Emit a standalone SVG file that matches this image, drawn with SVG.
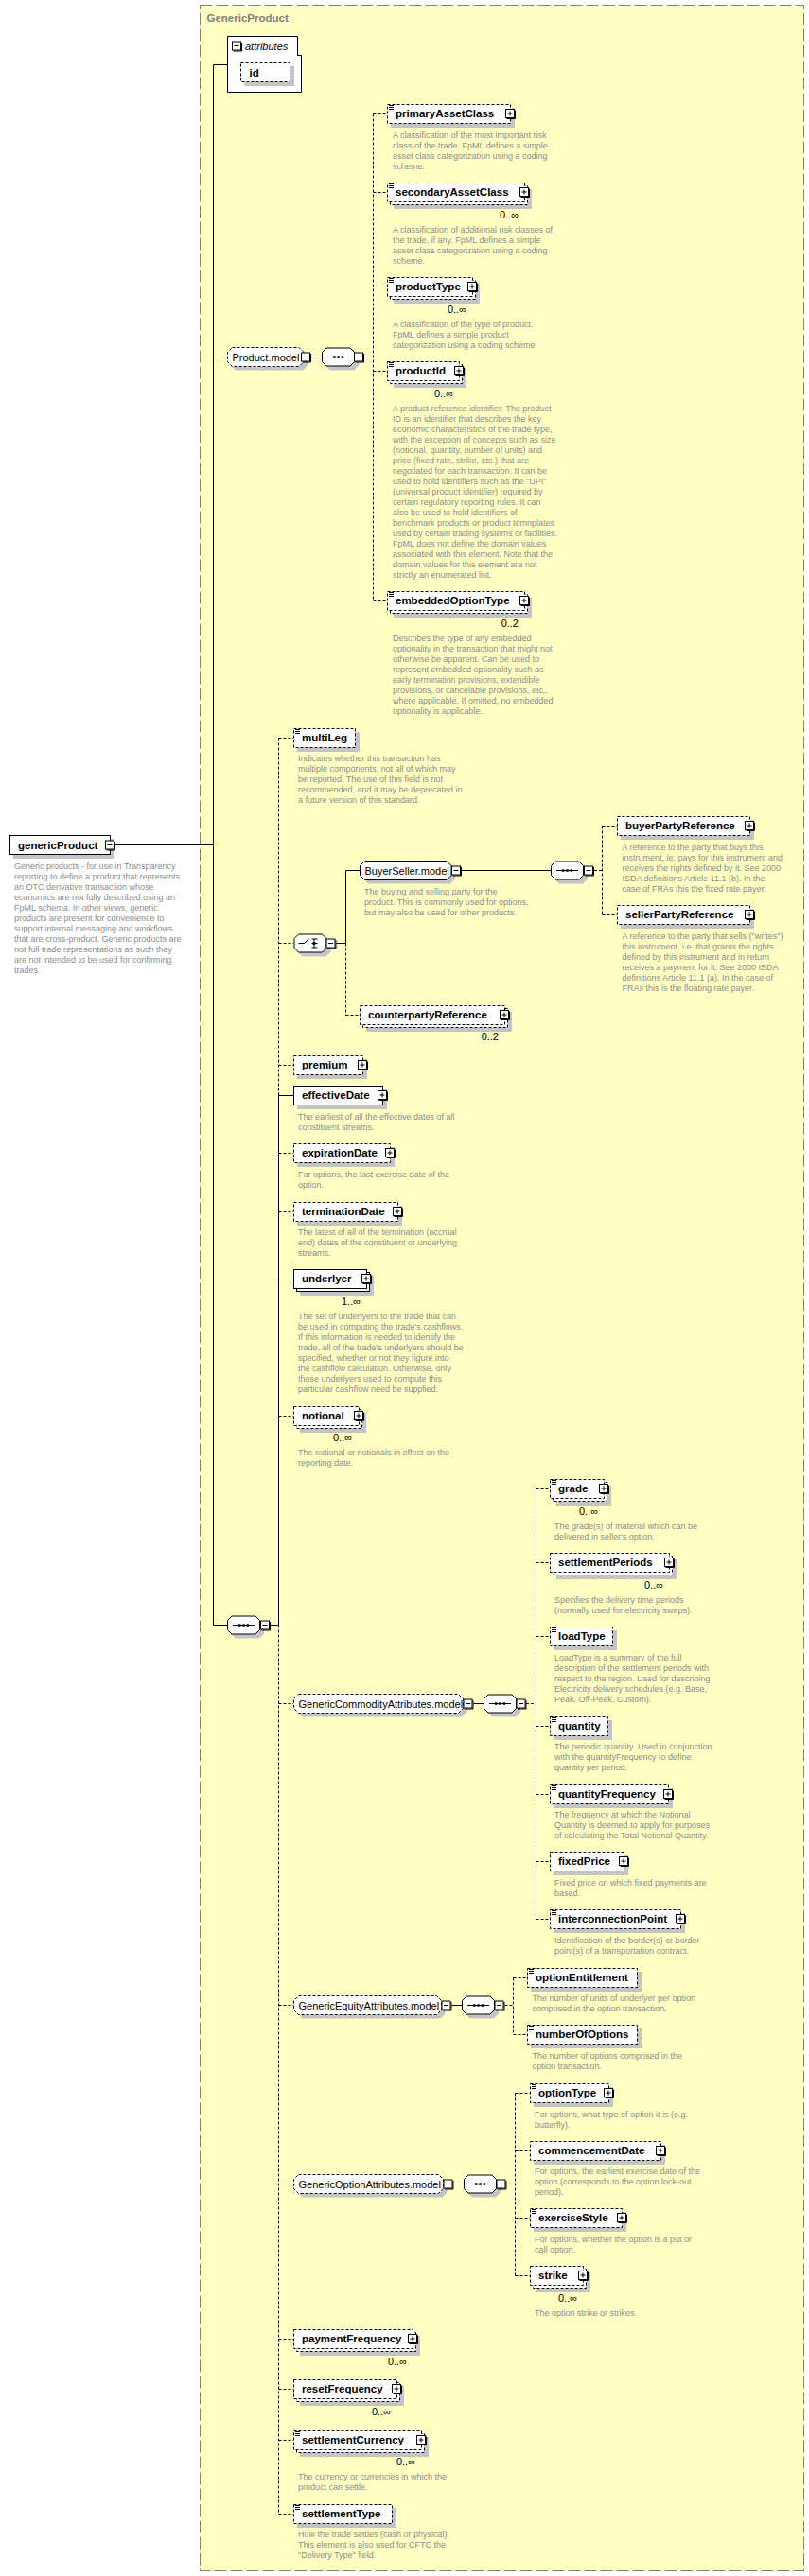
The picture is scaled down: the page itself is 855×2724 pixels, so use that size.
<svg xmlns="http://www.w3.org/2000/svg" width="855" height="2724" viewBox="0 0 855 2724">
<style>
.t{font-family:'Liberation Sans',Arial,sans-serif}
.el{font-family:'Liberation Sans',Arial,sans-serif;font-weight:bold;font-size:11.5px;fill:#000}
.gr{font-family:'Liberation Sans',Arial,sans-serif;font-size:11px;fill:#000}
.ds{font-family:'Liberation Sans',Arial,sans-serif;font-size:9px;fill:#8c8c8c}
.mu{font-family:'Liberation Sans',Arial,sans-serif;font-size:11px;fill:#000;text-anchor:end}
.bx{fill:#fff;stroke:#000;stroke-width:1}
.o{stroke-dasharray:3 2}
.sh{fill:#c4c4c4}
.ln{fill:none;stroke:#000;stroke-width:1}
.dl{fill:none;stroke:#000;stroke-width:1;stroke-dasharray:3 2}
</style>
<defs>
<g id="plus"><rect x="0.5" y="0.5" width="9" height="9" fill="#fff" stroke="#000"/><path d="M10.5 1.5V10.5H1.5" fill="none" stroke="#000"/><path d="M2.5 5H7.5M5 2.5V7.5" stroke="#000"/></g>
<g id="minus"><rect x="0.5" y="0.5" width="9" height="9" fill="#fff" stroke="#000"/><path d="M10.5 1.5V10.5H1.5" fill="none" stroke="#000"/><path d="M2.5 5H7.5" stroke="#000"/></g>
<g id="eq"><path d="M0 0.5H5M0 2.5H5M0 4.5H5" stroke="#000"/></g>
<g id="seq"><polygon class="sh" points="9,4 34,4 39,9 39,19 34,24 9,24 4,19 4,9"/><polygon class="bx" points="5,0.5 30,0.5 34.5,5 34.5,15 30,19.5 5,19.5 0.5,15 0.5,5"/><path d="M6 10H29" stroke="#000"/><rect x="12" y="8.8" width="2.5" height="2.5"/><rect x="16.3" y="8.8" width="2.5" height="2.5"/><rect x="20.6" y="8.8" width="2.5" height="2.5"/></g>
<g id="choice"><polygon class="sh" points="9,4 34,4 39,9 39,19 34,24 9,24 4,19 4,9"/><polygon class="bx" points="5,0.5 30,0.5 34.5,5 34.5,15 30,19.5 5,19.5 0.5,15 0.5,5"/><path d="M5 10H11L16 5.5M21.5 5.5V14.5M19 5.5H25M19 10H25M19 14.5H25" fill="none" stroke="#000"/><rect x="20" y="8.8" width="3" height="2.5"/></g>
</defs>

<g id="container">
<rect x="211.5" y="5.5" width="638" height="2713" fill="#ffffc4" stroke="#808080" stroke-dasharray="13 4"/>
<text class="t" x="218.5" y="23" font-size="11.5" font-weight="bold" fill="#808080">GenericProduct</text>
</g>

<g id="connectors">
<path class="ln" d="M122 893.5H225.5M225.5 68.5V1718.5M225.5 68.5H240.5M225.5 1718.5H240M321 377.5H340M286 1718.5H294.5M294.5 1158.5V1718.5M294.5 1158.5H310M294.5 1352.5H310M488 920.5H582M355.5 997.5H365.5M365.5 920.5V997.5M365.5 920.5H380M500.5 1801.5H511M477.5 2120.5H488M479.5 2309.5H490"/>
<path class="dl" d="M225.5 377.5H240M384.5 377.5H394.5M394.5 120.5V635.5M394.5 120.5H409M394.5 203.5H409M394.5 303.5H409M394.5 392.5H409M394.5 635.5H409"/>
<path class="dl" d="M294.5 780.5V1158.5M294.5 1718.5V2658.5M294.5 780.5H310M294.5 997.5H310M294.5 1126.5H310M294.5 1219.5H310M294.5 1281.5H310M294.5 1497.5H310M294.5 1801.5H310M294.5 2120.5H310M294.5 2309.5H310M294.5 2473.5H310M294.5 2526.5H310M294.5 2580.5H310M294.5 2658.5H310"/>
<path class="dl" d="M628 920.5H636.5M636.5 873.5V967.5M636.5 873.5H652M636.5 967.5H652M365.5 997.5V1073.5M365.5 1073.5H380"/>
<path class="dl" d="M556 1801.5H566.5M566.5 1574.5V2029.5M566.5 1574.5H581M566.5 1652.5H581M566.5 1730.5H581M566.5 1825.5H581M566.5 1897.5H581M566.5 1968.5H581M566.5 2029.5H581"/>
<path class="dl" d="M533.5 2120.5H542.5M542.5 2091.5V2151.5M542.5 2091.5H557M542.5 2151.5H557"/>
<path class="dl" d="M535.5 2309.5H544.5M544.5 2213.5V2406.5M544.5 2213.5H560M544.5 2274.5H560M544.5 2345.5H560M544.5 2406.5H560"/>
</g>

<g id="n-genericProduct">
<rect class="sh" x="14" y="887" width="107" height="21"/>
<rect class="bx" x="10.5" y="883.5" width="106" height="20"/>
<text class="el" x="19" y="897.5" font-size="12">genericProduct</text>
<use href="#minus" x="111" y="888.5"/>
<text class="ds"><tspan x="15" y="919">Generic products - for use in Transparency</tspan><tspan x="15" y="930">reporting to define a product that represents</tspan><tspan x="15" y="941">an OTC derivative transaction whose</tspan><tspan x="15" y="952">economics are not fully described using an</tspan><tspan x="15" y="963">FpML schema. In other views, generic</tspan><tspan x="15" y="974">products are present for convenience to</tspan><tspan x="15" y="985">support internal messaging and workflows</tspan><tspan x="15" y="996">that are cross-product. Generic products are</tspan><tspan x="15" y="1007">not full trade representations as such they</tspan><tspan x="15" y="1018">are not intended to be used for confirming</tspan><tspan x="15" y="1029">trades.</tspan></text>
</g>

<g id="n-attributes">
<path class="bx" d="M240.5 38.5H314.5V58.5H318.5V97.5H240.5Z"/>
<use href="#minus" x="245" y="43.5"/>
<text class="t" x="259" y="52.5" font-size="11" font-style="italic">attributes</text>
<rect class="sh" x="258" y="70" width="53" height="21"/>
<rect class="bx o" x="254.5" y="66.5" width="52" height="20"/>
<text class="el" x="263.5" y="80.5">id</text>
</g>

<g id="n-Product.model">
<polygon class="sh" points="249,371.5 320,371.5 325,376.5 325,386.5 320,391.5 249,391.5 244,386.5 244,376.5"/>
<polygon class="bx o" points="245.5,367.5 316,367.5 321,372.5 321,382.5 316,387.5 245.5,387.5 240.5,382.5 240.5,372.5"/>
<text class="gr" x="245.5" y="381.5">Product.model</text>
<use href="#minus" x="318" y="372.5"/>
<use href="#seq" x="340" y="367.5"/>
<use href="#minus" x="374" y="372.5"/>
</g>

<g id="n-primaryAssetClass">
<rect class="sh" x="413" y="114" width="131" height="21"/>
<rect class="bx o" x="409.5" y="110.5" width="130" height="20"/>
<use href="#eq" x="411" y="111"/>
<text class="el" x="418" y="124">primaryAssetClass</text>
<use href="#plus" x="534" y="115"/>
<text class="ds"><tspan x="415" y="146">A classification of the most important risk</tspan><tspan x="415" y="157">class of the trade. FpML defines a simple</tspan><tspan x="415" y="168">asset class categorization using a coding</tspan><tspan x="415" y="179">scheme.</tspan></text>
</g>

<g id="n-secondaryAssetClass">
<rect class="sh" x="416" y="200" width="146" height="21"/>
<rect class="bx o" x="412.5" y="196.5" width="145" height="20"/>
<rect class="bx o" x="409.5" y="193.5" width="145" height="20"/>
<use href="#eq" x="411" y="194"/>
<text class="el" x="418" y="207">secondaryAssetClass</text>
<use href="#plus" x="549" y="198"/>
<text class="mu" x="548" y="231">0..∞</text>
<text class="ds"><tspan x="415" y="245.7">A classification of additional risk classes of</tspan><tspan x="415" y="256.7">the trade, if any. FpML defines a simple</tspan><tspan x="415" y="267.7">asset class categorization using a coding</tspan><tspan x="415" y="278.7">scheme.</tspan></text>
</g>

<g id="n-productType">
<rect class="sh" x="416" y="300" width="91" height="21"/>
<rect class="bx o" x="412.5" y="296.5" width="90" height="20"/>
<rect class="bx o" x="409.5" y="293.5" width="90" height="20"/>
<use href="#eq" x="411" y="294"/>
<text class="el" x="418" y="307">productType</text>
<use href="#plus" x="494" y="298"/>
<text class="mu" x="493" y="330.5">0..∞</text>
<text class="ds"><tspan x="415" y="346">A classification of the type of product.</tspan><tspan x="415" y="357">FpML defines a simple product</tspan><tspan x="415" y="368">categorization using a coding scheme.</tspan></text>
</g>

<g id="n-productId">
<rect class="sh" x="416" y="389" width="77" height="21"/>
<rect class="bx o" x="412.5" y="385.5" width="76" height="20"/>
<rect class="bx o" x="409.5" y="382.5" width="76" height="20"/>
<use href="#eq" x="411" y="383"/>
<text class="el" x="418" y="396">productId</text>
<use href="#plus" x="480" y="387"/>
<text class="mu" x="479" y="419.5">0..∞</text>
<text class="ds"><tspan x="415" y="435">A product reference identifier. The product</tspan><tspan x="415" y="446">ID is an identifier that describes the key</tspan><tspan x="415" y="457">economic characteristics of the trade type,</tspan><tspan x="415" y="468">with the exception of concepts such as size</tspan><tspan x="415" y="479">(notional, quantity, number of units) and</tspan><tspan x="415" y="490">price (fixed rate, strike, etc.) that are</tspan><tspan x="415" y="501">negotiated for each transaction. It can be</tspan><tspan x="415" y="512">used to hold identifiers such as the "UPI"</tspan><tspan x="415" y="523">(universal product identifier) required by</tspan><tspan x="415" y="534">certain regulatory reporting rules. It can</tspan><tspan x="415" y="545">also be used to hold identifiers of</tspan><tspan x="415" y="556">benchmark products or product temnplates</tspan><tspan x="415" y="567">used by certain trading systems or facilities.</tspan><tspan x="415" y="578">FpML does not define the domain values</tspan><tspan x="415" y="589">associated with this element. Note that the</tspan><tspan x="415" y="600">domain values for this element are not</tspan><tspan x="415" y="611">strictly an enumerated list.</tspan></text>
</g>

<g id="n-embeddedOptionType">
<rect class="sh" x="416" y="632" width="146" height="21"/>
<rect class="bx o" x="412.5" y="628.5" width="145" height="20"/>
<rect class="bx o" x="409.5" y="625.5" width="145" height="20"/>
<use href="#eq" x="411" y="626"/>
<text class="el" x="418" y="639">embeddedOptionType</text>
<use href="#plus" x="549" y="630"/>
<text class="mu" x="548" y="662.5">0..2</text>
<text class="ds"><tspan x="415" y="678">Describes the type of any embedded</tspan><tspan x="415" y="689">optionality in the transaction that might not</tspan><tspan x="415" y="700">otherwise be apparent. Can be used to</tspan><tspan x="415" y="711">represent embedded optionality such as</tspan><tspan x="415" y="722">early termination provisions, extendible</tspan><tspan x="415" y="733">provisions, or cancelable provisions, etc.,</tspan><tspan x="415" y="744">where applicable. If omitted, no embedded</tspan><tspan x="415" y="755">optionality is applicable.</tspan></text>
</g>

<g id="n-sequence-main">
<use href="#seq" x="240" y="1708.5"/>
<use href="#minus" x="275" y="1713.5"/>
</g>

<g id="n-multiLeg">
<rect class="sh" x="314" y="774" width="66" height="21"/>
<rect class="bx o" x="310.5" y="770.5" width="65" height="20"/>
<use href="#eq" x="312" y="771"/>
<text class="el" x="319" y="784">multiLeg</text>
<text class="ds"><tspan x="315" y="805">Indicates whether this transaction has</tspan><tspan x="315" y="816">multiple components, not all of which may</tspan><tspan x="315" y="827">be reported. The use of this field is not</tspan><tspan x="315" y="838">recommended, and it may be deprecated in</tspan><tspan x="315" y="849">a future version of this standard.</tspan></text>
</g>

<g id="n-choice">
<use href="#choice" x="310.5" y="987.5"/>
<use href="#minus" x="344.5" y="992.5"/>
</g>

<g id="n-BuyerSeller.model">
<polygon class="sh" points="389,914.5 476,914.5 481,919.5 481,929.5 476,934.5 389,934.5 384,929.5 384,919.5"/>
<polygon class="bx" points="385.5,910.5 472,910.5 477,915.5 477,925.5 472,930.5 385.5,930.5 380.5,925.5 380.5,915.5"/>
<text class="gr" x="385.5" y="924.5">BuyerSeller.model</text>
<use href="#minus" x="477" y="915.5"/>
<use href="#seq" x="582" y="910.5"/>
<use href="#minus" x="617" y="915.5"/>
<text class="ds"><tspan x="385" y="946.3">The buying and selling party for the</tspan><tspan x="385" y="957.3">product. This is commonly used for options,</tspan><tspan x="385" y="968.3">but may also be used for other products.</tspan></text>
</g>

<g id="n-buyerPartyReference">
<rect class="sh" x="656" y="867" width="141" height="21"/>
<rect class="bx o" x="652.5" y="863.5" width="140" height="20"/>
<text class="el" x="661" y="877">buyerPartyReference</text>
<use href="#plus" x="787" y="868"/>
<text class="ds"><tspan x="657.5" y="899">A reference to the party that buys this</tspan><tspan x="657.5" y="910">instrument, ie. pays for this instrument and</tspan><tspan x="657.5" y="921">receives the rights defined by it. See 2000</tspan><tspan x="657.5" y="932">ISDA definitions Article 11.1 (b). In the</tspan><tspan x="657.5" y="943">case of FRAs this the fixed rate payer.</tspan></text>
</g>

<g id="n-sellerPartyReference">
<rect class="sh" x="656" y="961" width="141" height="21"/>
<rect class="bx o" x="652.5" y="957.5" width="140" height="20"/>
<text class="el" x="661" y="971">sellerPartyReference</text>
<use href="#plus" x="787" y="962"/>
<text class="ds"><tspan x="657.5" y="993">A reference to the party that sells ("writes")</tspan><tspan x="657.5" y="1004">this instrument, i.e. that grants the rights</tspan><tspan x="657.5" y="1015">defined by this instrument and in return</tspan><tspan x="657.5" y="1026">receives a payment for it. See 2000 ISDA</tspan><tspan x="657.5" y="1037">definitions Article 11.1 (a). In the case of</tspan><tspan x="657.5" y="1048">FRAs this is the floating rate payer.</tspan></text>
</g>

<g id="n-counterpartyReference">
<rect class="sh" x="387" y="1070" width="154" height="21"/>
<rect class="bx o" x="383.5" y="1066.5" width="153" height="20"/>
<rect class="bx o" x="380.5" y="1063.5" width="153" height="20"/>
<text class="el" x="389" y="1077">counterpartyReference</text>
<use href="#plus" x="528" y="1068"/>
<text class="mu" x="527" y="1100">0..2</text>
</g>

<g id="n-premium">
<rect class="sh" x="314" y="1120" width="74" height="21"/>
<rect class="bx o" x="310.5" y="1116.5" width="73" height="20"/>
<text class="el" x="319" y="1130">premium</text>
<use href="#plus" x="378" y="1121"/>
</g>

<g id="n-effectiveDate">
<rect class="sh" x="314" y="1152" width="95" height="21"/>
<rect class="bx" x="310.5" y="1148.5" width="94" height="20"/>
<text class="el" x="319" y="1162">effectiveDate</text>
<use href="#plus" x="399" y="1153"/>
<text class="ds"><tspan x="315" y="1184">The earliest of all the effective dates of all</tspan><tspan x="315" y="1195">constituent streams.</tspan></text>
</g>

<g id="n-expirationDate">
<rect class="sh" x="314" y="1213" width="103" height="21"/>
<rect class="bx o" x="310.5" y="1209.5" width="102" height="20"/>
<text class="el" x="319" y="1223">expirationDate</text>
<use href="#plus" x="407" y="1214"/>
<text class="ds"><tspan x="315" y="1245.3">For options, the last exercise date of the</tspan><tspan x="315" y="1256.3">option.</tspan></text>
</g>

<g id="n-terminationDate">
<rect class="sh" x="314" y="1275" width="111" height="21"/>
<rect class="bx o" x="310.5" y="1271.5" width="110" height="20"/>
<text class="el" x="319" y="1285">terminationDate</text>
<use href="#plus" x="415" y="1276"/>
<text class="ds"><tspan x="315" y="1306">The latest of all of the termination (accrual</tspan><tspan x="315" y="1317">end) dates of the constituent or underlying</tspan><tspan x="315" y="1328">streams.</tspan></text>
</g>

<g id="n-underlyer">
<rect class="sh" x="317" y="1349" width="78" height="21"/>
<rect class="bx" x="313.5" y="1345.5" width="77" height="20"/>
<rect class="bx" x="310.5" y="1342.5" width="77" height="20"/>
<text class="el" x="319" y="1356">underlyer</text>
<use href="#plus" x="382" y="1347"/>
<text class="mu" x="381" y="1379.5">1..∞</text>
<text class="ds"><tspan x="315" y="1395">The set of underlyers to the trade that can</tspan><tspan x="315" y="1406">be used in computing the trade's cashflows.</tspan><tspan x="315" y="1417">If this information is needed to identify the</tspan><tspan x="315" y="1428">trade, all of the trade's underlyers should be</tspan><tspan x="315" y="1439">specified, whether or not they figure into</tspan><tspan x="315" y="1450">the cashflow calculation. Otherwise, only</tspan><tspan x="315" y="1461">those underlyers used to compute this</tspan><tspan x="315" y="1472">particular cashflow need be supplied.</tspan></text>
</g>

<g id="n-notional">
<rect class="sh" x="317" y="1494" width="70" height="21"/>
<rect class="bx o" x="313.5" y="1490.5" width="69" height="20"/>
<rect class="bx o" x="310.5" y="1487.5" width="69" height="20"/>
<text class="el" x="319" y="1501">notional</text>
<use href="#plus" x="374" y="1492"/>
<text class="mu" x="372" y="1524">0..∞</text>
<text class="ds"><tspan x="315" y="1539">The notional or notionals in effect on the</tspan><tspan x="315" y="1550">reporting date.</tspan></text>
</g>

<g id="n-GenericCommodityAttributes.model">
<polygon class="sh" points="319.5,1795.5 488.5,1795.5 493.5,1800.5 493.5,1810.5 488.5,1815.5 319.5,1815.5 314.5,1810.5 314.5,1800.5"/>
<polygon class="bx o" points="315.5,1791.5 484.5,1791.5 489.5,1796.5 489.5,1806.5 484.5,1811.5 315.5,1811.5 310.5,1806.5 310.5,1796.5"/>
<text class="gr" x="315.5" y="1805.5">GenericCommodityAttributes.model</text>
<use href="#minus" x="489.5" y="1796.5"/>
<use href="#seq" x="511" y="1791.5"/>
<use href="#minus" x="545.5" y="1796.5"/>
</g>

<g id="n-grade">
<rect class="sh" x="588" y="1571" width="58" height="21"/>
<rect class="bx o" x="584.5" y="1567.5" width="57" height="20"/>
<rect class="bx o" x="581.5" y="1564.5" width="57" height="20"/>
<use href="#eq" x="583" y="1565"/>
<text class="el" x="590" y="1578">grade</text>
<use href="#plus" x="633" y="1569"/>
<text class="mu" x="632" y="1601.5">0..∞</text>
<text class="ds"><tspan x="586" y="1617">The grade(s) of material which can be</tspan><tspan x="586" y="1628">delivered in seller's option.</tspan></text>
</g>

<g id="n-settlementPeriods">
<rect class="sh" x="588" y="1649" width="127" height="21"/>
<rect class="bx o" x="584.5" y="1645.5" width="126" height="20"/>
<rect class="bx o" x="581.5" y="1642.5" width="126" height="20"/>
<text class="el" x="590" y="1656">settlementPeriods</text>
<use href="#plus" x="702" y="1647"/>
<text class="mu" x="701" y="1679.5">0..∞</text>
<text class="ds"><tspan x="586" y="1695">Specifies the delivery time periods</tspan><tspan x="586" y="1706">(normally used for electricity swaps).</tspan></text>
</g>

<g id="n-loadType">
<rect class="sh" x="585" y="1724" width="67" height="21"/>
<rect class="bx o" x="581.5" y="1720.5" width="66" height="20"/>
<use href="#eq" x="583" y="1721"/>
<text class="el" x="590" y="1734">loadType</text>
<text class="ds"><tspan x="586" y="1756">LoadType is a summary of the full</tspan><tspan x="586" y="1767">description of the settlement periods with</tspan><tspan x="586" y="1778">respect to the region. Used for describing</tspan><tspan x="586" y="1789">Electricity delivery schedules (e.g. Base,</tspan><tspan x="586" y="1800">Peak, Off-Peak, Custom).</tspan></text>
</g>

<g id="n-quantity">
<rect class="sh" x="585" y="1819" width="62" height="21"/>
<rect class="bx o" x="581.5" y="1815.5" width="61" height="20"/>
<use href="#eq" x="583" y="1816"/>
<text class="el" x="590" y="1829">quantity</text>
<text class="ds"><tspan x="586" y="1850">The periodic quantity. Used in conjunction</tspan><tspan x="586" y="1861">with the quantityFrequency to define</tspan><tspan x="586" y="1872">quantity per period.</tspan></text>
</g>

<g id="n-quantityFrequency">
<rect class="sh" x="585" y="1891" width="126" height="21"/>
<rect class="bx o" x="581.5" y="1887.5" width="125" height="20"/>
<use href="#eq" x="583" y="1888"/>
<text class="el" x="590" y="1901">quantityFrequency</text>
<use href="#plus" x="701" y="1892"/>
<text class="ds"><tspan x="586" y="1922">The frequency at which the Notional</tspan><tspan x="586" y="1933">Quantity is deemed to apply for purposes</tspan><tspan x="586" y="1944">of calculating the Total Notional Quantity.</tspan></text>
</g>

<g id="n-fixedPrice">
<rect class="sh" x="585" y="1962" width="79" height="21"/>
<rect class="bx o" x="581.5" y="1958.5" width="78" height="20"/>
<text class="el" x="590" y="1972">fixedPrice</text>
<use href="#plus" x="654" y="1963"/>
<text class="ds"><tspan x="586" y="1994">Fixed price on which fixed payments are</tspan><tspan x="586" y="2005">based.</tspan></text>
</g>

<g id="n-interconnectionPoint">
<rect class="sh" x="585" y="2023" width="139" height="21"/>
<rect class="bx o" x="581.5" y="2019.5" width="138" height="20"/>
<use href="#eq" x="583" y="2020"/>
<text class="el" x="590" y="2033">interconnectionPoint</text>
<use href="#plus" x="714" y="2024"/>
<text class="ds"><tspan x="586" y="2055">Identification of the border(s) or border</tspan><tspan x="586" y="2066">point(s) of a transportation contract.</tspan></text>
</g>

<g id="n-GenericEquityAttributes.model">
<polygon class="sh" points="319.5,2114.5 465.5,2114.5 470.5,2119.5 470.5,2129.5 465.5,2134.5 319.5,2134.5 314.5,2129.5 314.5,2119.5"/>
<polygon class="bx o" points="315.5,2110.5 461.5,2110.5 466.5,2115.5 466.5,2125.5 461.5,2130.5 315.5,2130.5 310.5,2125.5 310.5,2115.5"/>
<text class="gr" x="315.5" y="2124.5">GenericEquityAttributes.model</text>
<use href="#minus" x="466.5" y="2115.5"/>
<use href="#seq" x="488" y="2110.5"/>
<use href="#minus" x="522.5" y="2115.5"/>
</g>

<g id="n-optionEntitlement">
<rect class="sh" x="561" y="2085" width="117" height="21"/>
<rect class="bx o" x="557.5" y="2081.5" width="116" height="20"/>
<use href="#eq" x="559" y="2082"/>
<text class="el" x="566" y="2095">optionEntitlement</text>
<text class="ds"><tspan x="562.5" y="2116">The number of units of underlyer per option</tspan><tspan x="562.5" y="2127">comprised in the option transaction.</tspan></text>
</g>

<g id="n-numberOfOptions">
<rect class="sh" x="561" y="2145" width="117" height="21"/>
<rect class="bx o" x="557.5" y="2141.5" width="116" height="20"/>
<use href="#eq" x="559" y="2142"/>
<text class="el" x="566" y="2155">numberOfOptions</text>
<text class="ds"><tspan x="562.5" y="2177.3">The number of options comprised in the</tspan><tspan x="562.5" y="2188.3">option transaction.</tspan></text>
</g>

<g id="n-GenericOptionAttributes.model">
<polygon class="sh" points="319.5,2303.5 467.5,2303.5 472.5,2308.5 472.5,2318.5 467.5,2323.5 319.5,2323.5 314.5,2318.5 314.5,2308.5"/>
<polygon class="bx o" points="315.5,2299.5 463.5,2299.5 468.5,2304.5 468.5,2314.5 463.5,2319.5 315.5,2319.5 310.5,2314.5 310.5,2304.5"/>
<text class="gr" x="315.5" y="2313.5">GenericOptionAttributes.model</text>
<use href="#minus" x="468.5" y="2304.5"/>
<use href="#seq" x="490" y="2299.5"/>
<use href="#minus" x="524.5" y="2304.5"/>
</g>

<g id="n-optionType">
<rect class="sh" x="564" y="2207" width="84" height="21"/>
<rect class="bx o" x="560.5" y="2203.5" width="83" height="20"/>
<use href="#eq" x="562" y="2204"/>
<text class="el" x="569" y="2217">optionType</text>
<use href="#plus" x="638" y="2208"/>
<text class="ds"><tspan x="565" y="2238.6">For options, what type of option it is (e.g.</tspan><tspan x="565" y="2249.6">butterfly).</tspan></text>
</g>

<g id="n-commencementDate">
<rect class="sh" x="564" y="2268" width="139" height="21"/>
<rect class="bx o" x="560.5" y="2264.5" width="138" height="20"/>
<text class="el" x="569" y="2278">commencementDate</text>
<use href="#plus" x="693" y="2269"/>
<text class="ds"><tspan x="565" y="2299">For options, the earliest exercise date of the</tspan><tspan x="565" y="2310">option (corresponds to the option lock-out</tspan><tspan x="565" y="2321">period).</tspan></text>
</g>

<g id="n-exerciseStyle">
<rect class="sh" x="564" y="2339" width="98" height="21"/>
<rect class="bx o" x="560.5" y="2335.5" width="97" height="20"/>
<use href="#eq" x="562" y="2336"/>
<text class="el" x="569" y="2349">exerciseStyle</text>
<use href="#plus" x="652" y="2340"/>
<text class="ds"><tspan x="565" y="2371.3">For options, whether the option is a put or</tspan><tspan x="565" y="2382.3">call option.</tspan></text>
</g>

<g id="n-strike">
<rect class="sh" x="567" y="2403" width="57" height="21"/>
<rect class="bx o" x="563.5" y="2399.5" width="56" height="20"/>
<rect class="bx o" x="560.5" y="2396.5" width="56" height="20"/>
<text class="el" x="569" y="2410">strike</text>
<use href="#plus" x="611" y="2401"/>
<text class="mu" x="610" y="2433.5">0..∞</text>
<text class="ds"><tspan x="565" y="2449">The option strike or strikes.</tspan></text>
</g>

<g id="n-paymentFrequency">
<rect class="sh" x="317" y="2470" width="127" height="21"/>
<rect class="bx o" x="313.5" y="2466.5" width="126" height="20"/>
<rect class="bx o" x="310.5" y="2463.5" width="126" height="20"/>
<text class="el" x="319" y="2477">paymentFrequency</text>
<use href="#plus" x="431" y="2468"/>
<text class="mu" x="430" y="2500.5">0..∞</text>
</g>

<g id="n-resetFrequency">
<rect class="sh" x="317" y="2523" width="110" height="21"/>
<rect class="bx o" x="313.5" y="2519.5" width="109" height="20"/>
<rect class="bx o" x="310.5" y="2516.5" width="109" height="20"/>
<text class="el" x="319" y="2530">resetFrequency</text>
<use href="#plus" x="414" y="2521"/>
<text class="mu" x="413" y="2553.5">0..∞</text>
</g>

<g id="n-settlementCurrency">
<rect class="sh" x="317" y="2577" width="136" height="21"/>
<rect class="bx o" x="313.5" y="2573.5" width="135" height="20"/>
<rect class="bx o" x="310.5" y="2570.5" width="135" height="20"/>
<use href="#eq" x="312" y="2571"/>
<text class="el" x="319" y="2584">settlementCurrency</text>
<use href="#plus" x="440" y="2575"/>
<text class="mu" x="439" y="2607">0..∞</text>
<text class="ds"><tspan x="315" y="2622">The currency or currencies in which the</tspan><tspan x="315" y="2633">product can settle.</tspan></text>
</g>

<g id="n-settlementType">
<rect class="sh" x="314" y="2652" width="105" height="21"/>
<rect class="bx o" x="310.5" y="2648.5" width="104" height="20"/>
<use href="#eq" x="312" y="2649"/>
<text class="el" x="319" y="2662">settlementType</text>
<text class="ds"><tspan x="315" y="2683.3">How the trade settles (cash or physical).</tspan><tspan x="315" y="2694.3">This element is also used for CFTC the</tspan><tspan x="315" y="2705.3">"Delivery Type" field.</tspan></text>
</g>
</svg>
